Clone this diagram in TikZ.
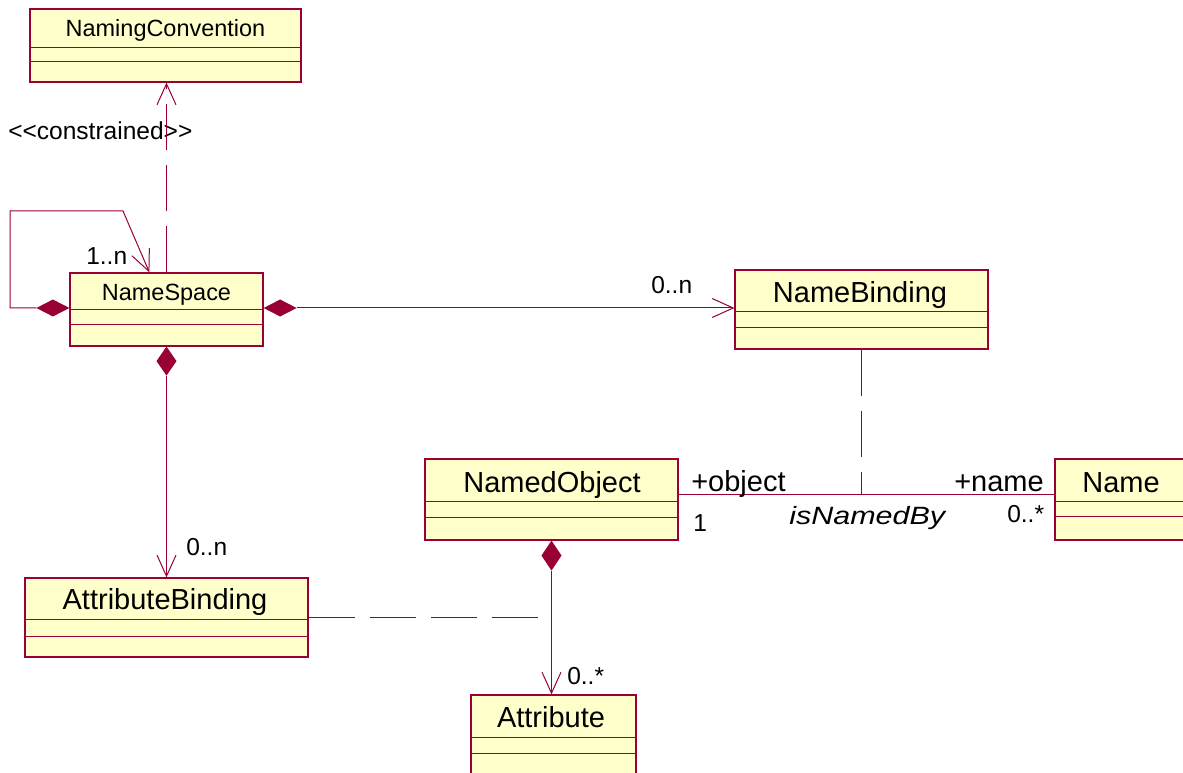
\documentclass[tikz,border=0pt]{standalone}
\usepackage{fontspec}
\setmainfont{Liberation Sans}
\usetikzlibrary{arrows.meta,calc}

\definecolor{umlred}{RGB}{153,0,51}
\definecolor{umlfill}{RGB}{255,255,204}

% font sizes (1 unit = 0.75pt)
\newcommand\fsmall{\fontsize{17.6pt}{20pt}\selectfont}
\newcommand\fbig{\fontsize{21.75pt}{25pt}\selectfont}
\newcommand\flabel{\fontsize{18.4pt}{21pt}\selectfont}
\newcommand\fital{\fontsize{18.75pt}{22pt}\selectfont\itshape}

\tikzset{
  x=0.75pt, y=-0.75pt,
  classframe/.style={rectangle, draw=umlred, fill=umlfill, line width=0.9pt, inner sep=0pt},
  compart/.style={draw=umlred, line width=0.75pt},
  conn/.style={draw=umlred, line width=0.75pt},
  dep/.style={conn, dash pattern=on 34.5pt off 11.25pt},
  navtip/.style={-{Straight Barb[length=15.75pt,width=14.25pt,line width=0.75pt]}},
  ctitle/.style={inner sep=0pt, anchor=base, text=black},
  lbl/.style={inner sep=0pt, anchor=base west, text=black, font=\flabel},
  role/.style={inner sep=0pt, anchor=base west, text=black, font=\fbig},
}

% class box: name, x1, y1, x2, y2, first divider, second divider
\newcommand\umlbox[7]{%
  \node[classframe, minimum width={(#4-#2)*0.75pt}, minimum height={(#5-#3)*0.75pt}]
    (#1) at ({(#2+#4)/2},{(#3+#5)/2}) {};
  \draw[compart] (#2,#6) -- (#4,#6) (#2,#7) -- (#4,#7);
}

\begin{document}
\begin{tikzpicture}
\useasboundingbox (0,0) rectangle (1183,773);
\clip (0,0) rectangle (1183,773);

% classes
\umlbox{nc}{30}{9}{301}{82}{48}{62}
\node[ctitle, font=\fsmall] (nc-t) at ($(nc.north)+(0,28)$) {NamingConvention};

\umlbox{ns}{70}{273}{263}{346}{310}{325}
\node[ctitle, font=\fsmall] (ns-t) at ($(ns.north)+(0,28)$) {NameSpace};

\umlbox{nb}{735}{270}{988}{349}{312}{328}
\node[ctitle, font=\fbig] (nb-t) at ($(nb.north)+(-1.5,33)$) {NameBinding};

\umlbox{no}{425}{459}{678}{540}{502}{518}
\node[ctitle, font=\fbig] (no-t) at ($(no.north)+(0.5,34)$) {NamedObject};

\umlbox{nm}{1055}{459}{1187}{540}{502}{517}
\node[ctitle, font=\fbig] (nm-t) at ($(nm.north)+(0,34)$) {Name};

\umlbox{ab}{25}{578}{308}{657}{620}{637}
\node[ctitle, font=\fbig] (ab-t) at ($(ab.north)+(-1.5,32)$) {AttributeBinding};

\umlbox{at}{471}{695}{636}{790}{737}{753}
\node[ctitle, font=\fbig] (at-t) at ($(at.north)+(-2.5,33)$) {Attribute};

% reference rows for horizontal connectors
\coordinate (rowY) at (0,308);
\coordinate (assocY) at (0,495);

% stereotype label (the dependency line runs over it)
\node[lbl] (l-constr) at (8,140) {<{}<constrained>{}>};

% dependency NameSpace -> NamingConvention
\draw[dep, navtip] (ns.north) -- (ns.north |- nc.south);

% recursive composition on NameSpace
\fill[umlred] (ns.west |- rowY) -- ++(-16.5,-8.5) -- ++(-16.5,8.5) -- ++(16.5,8.5) -- cycle;
\coordinate (loopA) at ($(ns.west |- rowY)+(-33,0)$);
\draw[conn, navtip] (loopA) -- (10,308) -- (10,211) -- (123,211) -- ($(ns.north west)+(80,0)$);
\node[lbl] (l-1n) at (86,265) {1..n};

% NameSpace composes NameBinding
\fill[umlred] (ns.east |- rowY) -- ++(16.5,-8.5) -- ++(16.5,8.5) -- ++(-16.5,8.5) -- cycle;
\draw[conn, navtip] ($(ns.east |- rowY)+(33,0)$) -- (nb.west |- rowY);
\node[lbl] (l-0n-a) at (651,294) {0..n};

% NameSpace composes AttributeBinding
\fill[umlred] (ns.south) -- ++(-10,14.5) -- ++(10,14.5) -- ++(10,-14.5) -- cycle;
\draw[conn, navtip] ($(ns.south)+(0,29)$) -- (ns.south |- ab.north);
\node[lbl] (l-0n-b) at (186,556) {0..n};

% NamedObject composes Attribute
\fill[umlred] (no.south) -- ++(-10,15) -- ++(10,15) -- ++(10,-15) -- cycle;
\draw[conn, navtip] ($(no.south)+(0,30)$) -- (no.south |- at.north);
\node[lbl] (l-0s-a) at (567,685) {0..*};

% association isNamedBy with its association class
\draw[conn] (no.east |- assocY) -- (nm.west |- assocY);
\draw[dep] (nb.south) -- (nb.south |- assocY);
\node[role] (l-obj) at (691,492) {+object};
\node[lbl] (l-1) at (693,532) {1};
\node[inner sep=0pt, anchor=base west, font=\fital] (l-isnb) at (789,525) {\scalebox{1.22}[1]{isNamedBy}};
\node[role] (l-name) at (954,492) {+name};
\node[lbl] (l-0s-b) at (1007,523) {0..*};

% association class link for AttributeBinding
\draw[dep] (ab.east) -- ($(ab.east)+(231,0)$);
\end{tikzpicture}
\end{document}
